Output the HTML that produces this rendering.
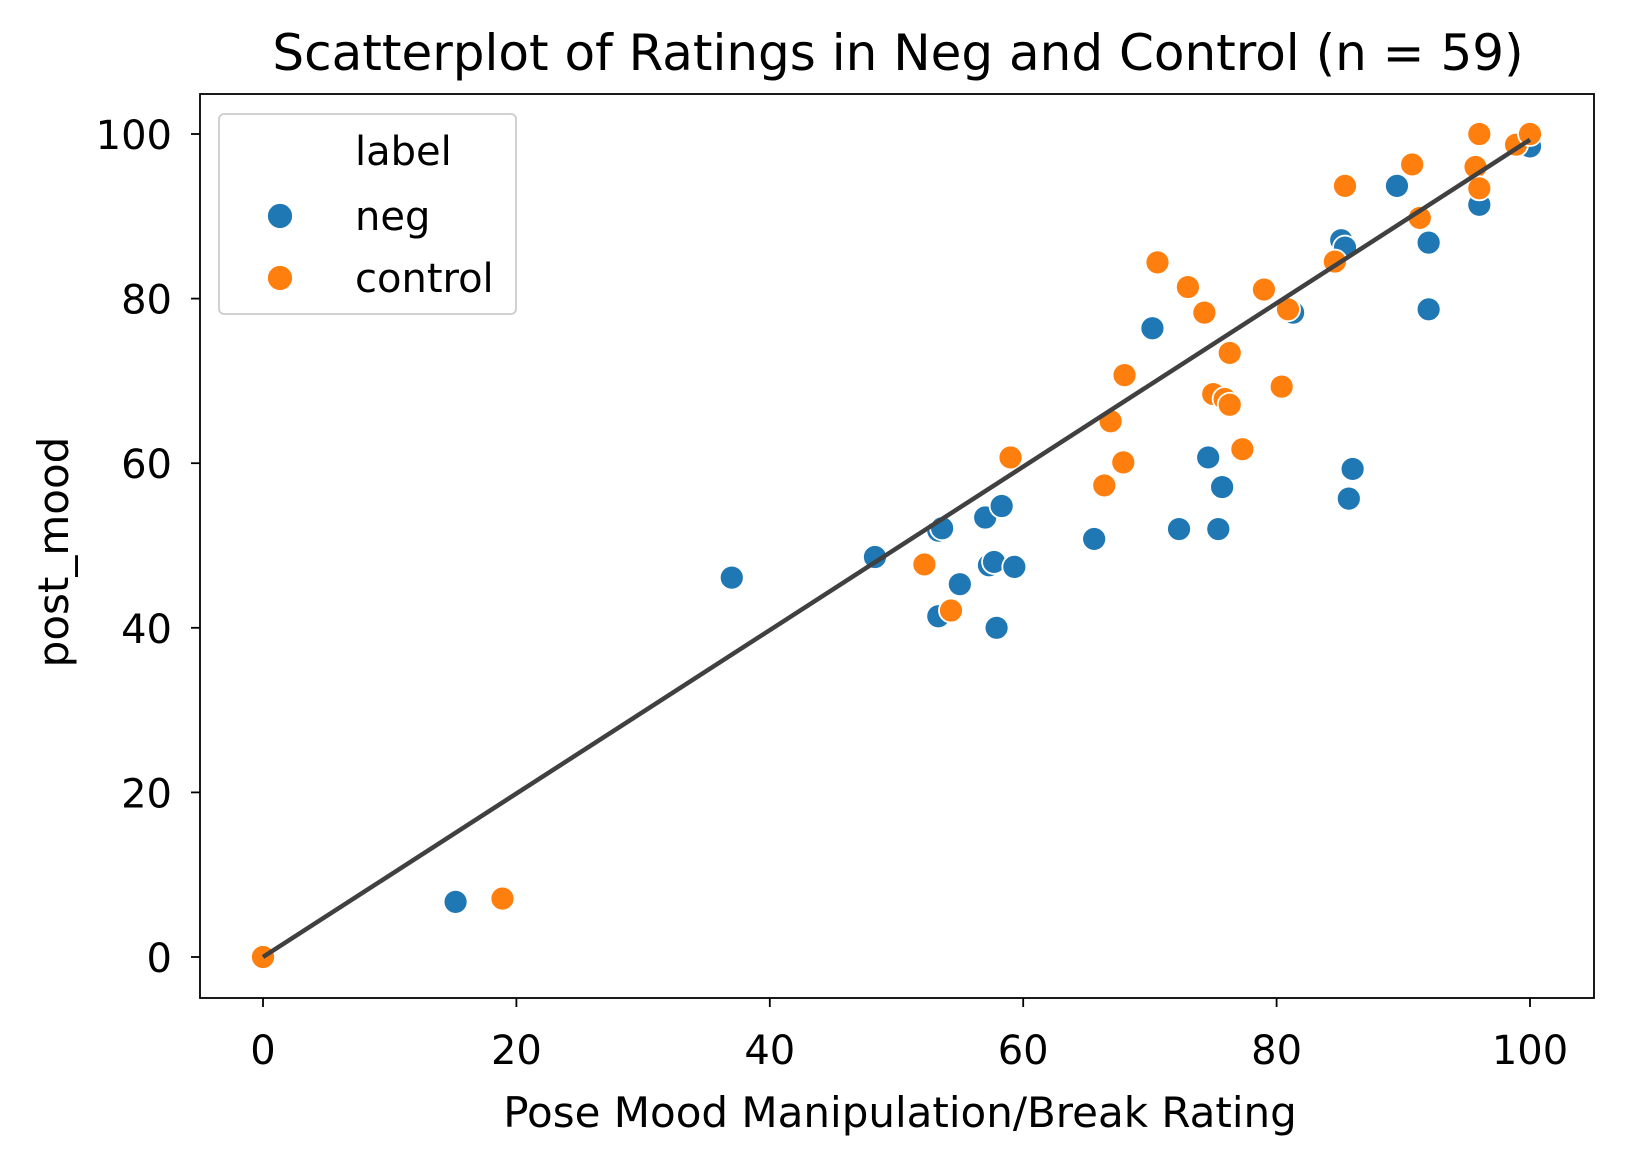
<!DOCTYPE html>
<html><head><meta charset="utf-8"><style>
body{margin:0;background:#fff}
svg text{font-family:"DejaVu Sans","Liberation Sans",sans-serif;fill:#000}
</style></head><body>
<svg id="chart" width="1626" height="1158">
<rect width="1626" height="1158" fill="#fff"/>
<g id="plot"></g>
</svg>
<script>
const negX=[15.2,37.0,48.3,53.3,53.6,53.3,55.0,57.0,57.3,57.7,57.9,58.3,59.3,65.6,70.2,72.3,74.6,75.4,75.7,81.3,85.1,85.4,85.7,86.0,89.5,92.0,92.0,96.0,100];
const negY=[6.7,46.1,48.6,51.8,52.1,41.4,45.3,53.4,47.6,48.0,40.0,54.8,47.4,50.8,76.4,52.0,60.7,52.0,57.1,78.3,87.1,86.2,55.7,59.3,93.7,86.8,78.7,91.4,98.5];
const ctlX=[0,18.9,52.2,54.3,59.0,66.4,66.9,67.9,68.0,70.6,73.0,74.3,75.0,75.9,76.3,76.3,77.3,79.0,80.4,80.9,84.6,85.4,90.7,91.3,95.7,96.0,96.0,98.9,100];
const ctlY=[0,7.1,47.7,42.1,60.7,57.3,65.1,60.1,70.7,84.4,81.4,78.3,68.4,67.8,67.1,73.4,61.7,81.1,69.3,78.7,84.5,93.7,96.3,89.8,96.0,100,93.4,98.7,100];
const fitX=[0,100];
const fitY=[0,99.3];
const xTicks=[0,20,40,60,80,100];
const yTicks=[0,20,40,60,80,100];

const NS="http://www.w3.org/2000/svg";
const L=200,R=1594,T=94,B=998;
const sx=v=>263+(v)*(1530-263)/100;
const sy=v=>957-(v)*(957-134)/100;
const g=document.getElementById('plot');
function mk(tag,attrs){const e=document.createElementNS(NS,tag);for(const k in attrs)e.setAttribute(k,attrs[k]);g.appendChild(e);return e;}

let t=mk('text',{x:898,y:70,'font-size':50,'text-anchor':'middle'});t.textContent='Scatterplot of Ratings in Neg and Control (n = 59)';



xTicks.forEach(v=>{
 const l=mk('line',{x1:sx(v),x2:sx(v),y1:B,y2:B+9,stroke:'#000','stroke-width':1.8});
 
 
 const tx=mk('text',{x:sx(v),y:B+66,'font-size':40,'text-anchor':'middle'});tx.textContent=v;
 
 
});
yTicks.forEach(v=>{
 const l=mk('line',{x1:L-9,x2:L,y1:sy(v),y2:sy(v),stroke:'#000','stroke-width':1.8});
 
 
 const tx=mk('text',{x:L-28,y:sy(v)+15,'font-size':40,'text-anchor':'end'});tx.textContent=v;
 
 
});
t=mk('text',{x:900,y:1127,'font-size':42,'text-anchor':'middle'});t.textContent='Pose Mood Manipulation/Break Rating';


t=mk('text',{x:0,y:0,'font-size':42,'text-anchor':'middle',transform:'translate(68,552) rotate(-90)'});t.textContent='post_mood';



function pts(X,Y,c,name){X.forEach((x,i)=>{
 const p=mk('circle',{cx:sx(x),cy:sy(Y[i]),r:12,fill:c,stroke:'#fff','stroke-width':1.8});
 
 
});}
pts(negX,negY,'#1f77b4','neg-point');
pts(ctlX,ctlY,'#ff7f0e','control-point');

const ln=mk('line',{x1:sx(fitX[0]),y1:sy(fitY[0]),x2:sx(fitX[1]),y2:sy(fitY[1]),stroke:'#404040','stroke-width':4.5});



const fr=mk('rect',{x:L,y:T,width:R-L,height:B-T,fill:'none',stroke:'#000','stroke-width':1.8});



const lg=mk('rect',{x:219,y:114,width:297,height:200,rx:5,fill:'#fff','fill-opacity':0.8,stroke:'#ccc','stroke-width':1.8});


t=mk('text',{x:355,y:165,'font-size':40});t.textContent='label';


[['neg','#1f77b4',216],['control','#ff7f0e',278]].forEach(([n,c,y])=>{
 const m=mk('circle',{cx:280,cy:y,r:13,fill:c,stroke:'#fff','stroke-width':1.8});
 
 
 const tx=mk('text',{x:355,y:y+14,'font-size':40});tx.textContent=n;
 
 
});
</script>
</body></html>
